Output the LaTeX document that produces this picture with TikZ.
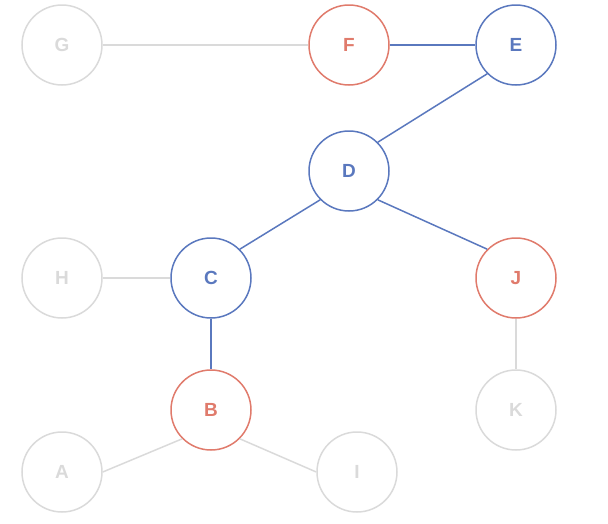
\documentclass[tikz,border=0pt]{standalone}
\usepackage{fontspec}
\setmainfont{Liberation Sans}
\definecolor{nblue}{HTML}{5A78BE}
\definecolor{nred}{HTML}{E07B6C}
\definecolor{ngrey}{HTML}{DADADA}
\begin{document}
\begin{tikzpicture}[x=1pt,y=-1pt,
  vert/.style={circle,draw,line width=1.5pt,minimum size=80pt,inner sep=0pt,font=\fontsize{19}{19}\selectfont\bfseries},
  bl/.style={vert,draw=nblue,text=nblue},
  rd/.style={vert,draw=nred,text=nred},
  gr/.style={vert,draw=ngrey,text=ngrey},
  eb/.style={draw=nblue,line width=1.5pt},
  eg/.style={draw=ngrey,line width=1.5pt}]
\useasboundingbox (0,0) rectangle (608,523);
\node[gr] (G) at (62,45) {G};
\node[rd] (F) at (349,45) {F};
\node[bl] (E) at (516,45) {E};
\node[bl] (D) at (349,171) {D};
\node[gr] (H) at (62,278) {H};
\node[bl] (C) at (211,278) {C};
\node[rd] (J) at (516,278) {J};
\node[rd] (B) at (211,410) {B};
\node[gr] (K) at (516,410) {K};
\node[gr] (A) at (62,472) {A};
\node[gr] (I) at (357,472) {I};
\draw[eg] (G.east) -- (F.west);
\draw[eb] (F.east) -- (E.west);
\draw[eb] (E.south west) -- (D.north east);
\draw[eb] (D.south west) -- (C.north east);
\draw[eb] (D.south east) -- (J.north west);
\draw[eg] (H.east) -- (C.west);
\draw[eb] (C.south) -- (B.north);
\draw[eg] (J.south) -- (K.north);
\draw[eg] (B.south west) -- (A.east);
\draw[eg] (B.south east) -- (I.west);
\end{tikzpicture}
\end{document}
